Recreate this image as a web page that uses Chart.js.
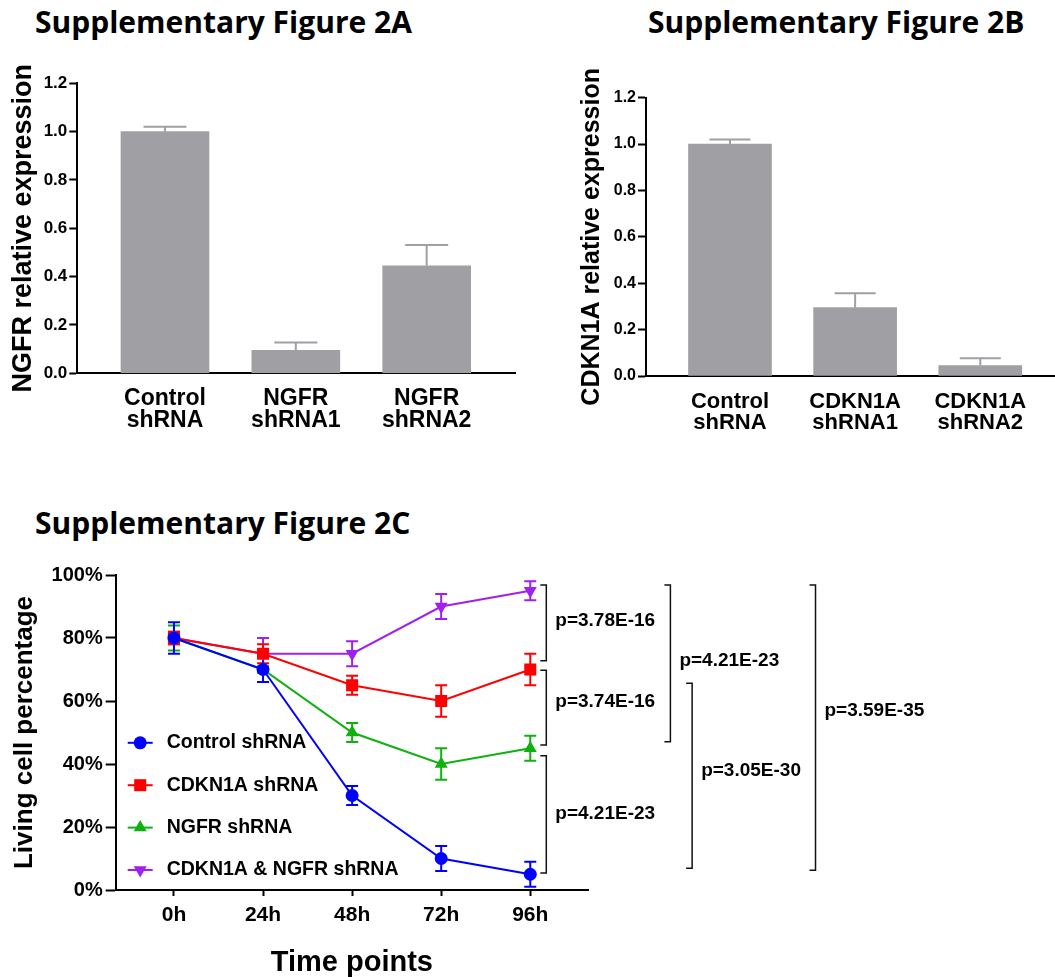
<!DOCTYPE html>
<html>
<head>
<meta charset="utf-8">
<script src="https://cdn.jsdelivr.net/npm/chart.js@4.4.1/dist/chart.umd.min.js"></script>
<style>
  body { margin: 0; background: #fff; width: 1055px; height: 977px; position: relative; overflow: hidden; }
  .ttl { position: absolute; font-family: "Open Sans", sans-serif; font-weight: 700; font-size: 30px; line-height: 30px; white-space: nowrap; color: #000; }
  .box { position: absolute; }
</style>
</head>
<body>
<div class="ttl" style="left:35px;top:7px">Supplementary Figure 2A</div>
<div class="ttl" style="left:648px;top:7px">Supplementary Figure 2B</div>
<div class="ttl" style="left:35px;top:508px">Supplementary Figure 2C</div>
<div class="box" style="left:0;top:50px;width:520px;height:400px"><canvas id="figA"></canvas></div>
<div class="box" style="left:520px;top:50px;width:535px;height:400px"><canvas id="figB"></canvas></div>
<div class="box" style="left:0;top:550px;width:1055px;height:427px"><canvas id="figC"></canvas></div>
<script>
// --- data ---
const ngfrGroups = [['Control', 'shRNA'], ['NGFR', 'shRNA1'], ['NGFR', 'shRNA2']];
const ngfrMean = [1.0, 0.095, 0.445];
const ngfrErr = [0.02, 0.032, 0.086];

const cdknGroups = [['Control', 'shRNA'], ['CDKN1A', 'shRNA1'], ['CDKN1A', 'shRNA2']];
const cdknMean = [1.0, 0.295, 0.045];
const cdknErr = [0.02, 0.062, 0.032];

const timeLabels = ['0h', '24h', '48h', '72h', '96h'];
const seriesNames = ['Control shRNA', 'CDKN1A shRNA', 'NGFR shRNA', 'CDKN1A & NGFR shRNA'];
const controlMean = [80, 70, 30, 10, 5];
const controlErr = [5, 4, 3, 4, 4];
const cdknLive = [80, 75, 65, 60, 70];
const cdknLiveErr = [2, 3, 3, 5, 5];
const ngfrLive = [80, 70, 50, 40, 45];
const ngfrLiveErr = [4, 1, 3, 5, 4];
const bothLive = [80, 75, 75, 90, 95];
const bothLiveErr = [2, 5, 4, 4, 3];

// significance brackets (axis units: x in time-index, y in %)
const pValues = ['p=3.78E-16', 'p=3.74E-16', 'p=4.21E-23', 'p=4.21E-23', 'p=3.05E-30', 'p=3.59E-35'];
const bracketX = [4.18, 4.18, 4.18, 5.573, 5.817, 7.202];
const bracketTop = [96.8, 69.8, 42.6, 96.8, 65.6, 96.8];
const bracketBottom = [72.8, 46, 5.4, 47.1, 6.9, 6.3];
const pLabelY = [85.4, 59.7, 24.1, 72.7, 37.8, 56.8];

const FONT = "'Liberation Sans', Arial, sans-serif";
Chart.defaults.font.family = FONT;
Chart.defaults.color = '#000';

const errorBars = {
  id: 'errorBars',
  beforeDatasetsDraw(chart, args, opts) {
    const ctx = chart.ctx;
    const ys = chart.scales.y;
    for (let d = chart.data.datasets.length - 1; d >= 0; d--) {
      const ds = chart.data.datasets[d];
      if (!ds.errors) continue;
      const meta = chart.getDatasetMeta(d);
      ctx.save();
      ctx.strokeStyle = opts.color || ds.borderColor;
      ctx.lineWidth = opts.width;
      meta.data.forEach((el, i) => {
        const v = ds.data[i].y;
        const top = ys.getPixelForValue(v + ds.errors[i]);
        const bot = opts.upOnly ? el.y : ys.getPixelForValue(v - ds.errors[i]);
        ctx.beginPath();
        ctx.moveTo(el.x, top); ctx.lineTo(el.x, bot);
        ctx.moveTo(el.x - opts.cap, top); ctx.lineTo(el.x + opts.cap, top);
        if (!opts.upOnly) { ctx.moveTo(el.x - opts.cap, bot); ctx.lineTo(el.x + opts.cap, bot); }
        ctx.stroke();
      });
      ctx.restore();
    }
  }
};

function barChart(id, groups, mean, err, yTitle, o) {
  return new Chart(document.getElementById(id), {
    type: 'bar',
    data: {
      datasets: [{
        data: groups.map((g, i) => ({ x: i, y: mean[i] })),
        errors: err,
        backgroundColor: '#a0a0a4',
        borderWidth: 0,
        barThickness: o.barW
      }]
    },
    options: {
      responsive: true, maintainAspectRatio: false, animation: false, events: [],
      layout: { padding: { left: 0, top: o.top, right: o.right, bottom: 0 } },
      plugins: { legend: { display: false }, tooltip: { enabled: false },
        errorBars: { width: 2, cap: o.cap, upOnly: true, color: '#a0a0a4' } },
      scales: {
        x: {
          type: 'linear', min: o.xmin, max: o.xmax, offset: false,
          afterBuildTicks: s => { s.ticks = groups.map((g, i) => ({ value: i })); },
          ticks: { callback: v => groups[v], autoSkip: false, maxRotation: 0,
            font: { size: o.xFont, weight: 'bold', lineHeight: 21.3 / o.xFont }, color: '#000', padding: o.xPad },
          grid: { display: false, drawTicks: false },
          border: { display: true, color: '#000', width: 2 },
          afterFit: s => { s.height = o.xH; }
        },
        y: {
          min: 0, max: 1.2,
          ticks: { stepSize: 0.2, callback: v => v.toFixed(1), font: { size: o.yFont, weight: 'bold' }, color: '#000', padding: 2 },
          grid: { drawOnChartArea: false, drawTicks: true, tickLength: 8, tickWidth: 2, tickColor: '#000' },
          border: { color: '#000', width: 2 },
          title: { display: true, text: yTitle, color: '#000',
            font: { size: o.titleFont, weight: 'bold', lineHeight: 1 }, padding: { top: o.titlePad, bottom: 0 } },
          afterFit: s => { s.width = o.yW; }
        }
      }
    },
    plugins: [errorBars]
  });
}

barChart('figA', ngfrGroups, ngfrMean, ngfrErr, 'NGFR relative expression',
  { barW: 88, cap: 21.5, top: 33.3, right: 5, xmin: -0.67, xmax: 2.675, xH: 76.7, yW: 77.3,
    xFont: 23, xPad: 15, yFont: 17, titleFont: 27, titlePad: 10 });

barChart('figB', cdknGroups, cdknMean, cdknErr, 'CDKN1A relative expression',
  { barW: 83, cap: 20.5, top: 47.7, right: 0, xmin: -0.671, xmax: 2.597, xH: 74, yW: 126,
    xFont: 22, xPad: 15, yFont: 16, titleFont: 25, titlePad: 59.7 });

// legend drawn inside the plot area, lower left
const insideLegend = {
  id: 'insideLegend',
  afterDraw(chart, args, opts) {
    const { ctx, chartArea } = chart;
    const sets = chart.data.datasets;
    ctx.save();
    sets.forEach((ds, i) => {
      const y = chartArea.bottom - opts.bottomGap - (sets.length - 1 - i) * opts.rowGap;
      const x0 = chartArea.left + opts.left;
      ctx.strokeStyle = ds.borderColor;
      ctx.lineWidth = 2;
      ctx.beginPath(); ctx.moveTo(x0, y); ctx.lineTo(x0 + opts.lineLen, y); ctx.stroke();
      ctx.fillStyle = ds.backgroundColor;
      Chart.helpers.drawPoint(ctx, { pointStyle: ds.pointStyle, radius: ds.pointRadius, rotation: ds.pointRotation || 0, borderWidth: 0 },
        x0 + opts.lineLen / 2, y);
      ctx.fillStyle = '#000';
      ctx.font = 'bold ' + opts.fontSize + 'px ' + FONT;
      ctx.textAlign = 'left'; ctx.textBaseline = 'middle';
      ctx.fillText(ds.label, x0 + opts.textGap, y);
    });
    ctx.restore();
  }
};

const brackets = {
  id: 'brackets',
  afterDraw(chart, args, opts) {
    const { ctx } = chart;
    const xs = chart.scales.x, ys = chart.scales.y;
    ctx.save();
    ctx.strokeStyle = '#111';
    ctx.lineWidth = 1.5;
    ctx.fillStyle = '#000';
    ctx.font = 'bold ' + opts.fontSize + 'px ' + FONT;
    ctx.textAlign = 'left'; ctx.textBaseline = 'middle';
    pValues.forEach((p, i) => {
      const x = xs.getPixelForValue(bracketX[i]);
      const t = ys.getPixelForValue(bracketTop[i]);
      const b = ys.getPixelForValue(bracketBottom[i]);
      ctx.beginPath();
      ctx.moveTo(x - opts.tick, t); ctx.lineTo(x, t); ctx.lineTo(x, b); ctx.lineTo(x - opts.tick, b);
      ctx.stroke();
      ctx.fillText(p, x + opts.gap, ys.getPixelForValue(pLabelY[i]));
    });
    ctx.restore();
  }
};

const lineStyles = [
  { color: '#0000ff', style: 'circle', r: 6.5, rot: 0 },
  { color: '#ff0000', style: 'rect', r: 8.5, rot: 0 },
  { color: '#10b010', style: 'triangle', r: 7.5, rot: 0 },
  { color: '#a020f0', style: 'triangle', r: 7.5, rot: 180 }
];
const liveMeans = [controlMean, cdknLive, ngfrLive, bothLive];
const liveErrs = [controlErr, cdknLiveErr, ngfrLiveErr, bothLiveErr];

new Chart(document.getElementById('figC'), {
  type: 'line',
  data: {
    datasets: seriesNames.map((name, k) => ({
      label: name,
      data: timeLabels.map((t, i) => ({ x: i, y: liveMeans[k][i] })),
      errors: liveErrs[k],
      borderColor: lineStyles[k].color,
      backgroundColor: lineStyles[k].color,
      borderWidth: 2,
      pointStyle: lineStyles[k].style,
      pointRadius: lineStyles[k].r,
      pointRotation: lineStyles[k].rot,
      pointBorderWidth: 0,
      tension: 0,
      clip: false
    }))
  },
  options: {
    responsive: true, maintainAspectRatio: false, animation: false, events: [],
    layout: { padding: { left: 0, top: 25, right: 467, bottom: 0 } },
    plugins: {
      legend: { display: false }, tooltip: { enabled: false },
      errorBars: { width: 2, cap: 6, upOnly: false },
      insideLegend: { left: 12, lineLen: 25, textGap: 39, bottomGap: 20, rowGap: 42.4, fontSize: 19.5 },
      brackets: { tick: 6, gap: 9, fontSize: 19 }
    },
    scales: {
      x: {
        type: 'linear', min: -0.654, max: 4.648,
        afterBuildTicks: s => { s.ticks = timeLabels.map((t, i) => ({ value: i })); },
        ticks: { callback: v => timeLabels[v], autoSkip: false, maxRotation: 0,
          font: { size: 21, weight: 'bold', lineHeight: 1 }, color: '#000', padding: 9 },
        grid: { drawOnChartArea: false, drawTicks: true, tickLength: 6, tickWidth: 2, tickColor: '#000' },
        border: { color: '#000', width: 2 },
        title: { display: true, text: 'Time points', color: '#000',
          font: { size: 29, weight: 'bold', lineHeight: 1 }, padding: { top: 0, bottom: 0 } },
        afterFit: s => { s.height = 87; }
      },
      y: {
        min: 0, max: 100,
        ticks: { stepSize: 20, callback: v => v + '%', font: { size: 20, weight: 'bold' }, color: '#000', padding: 3 },
        grid: { drawOnChartArea: false, drawTicks: true, tickLength: 10, tickWidth: 2, tickColor: '#000' },
        border: { color: '#000', width: 2 },
        title: { display: true, text: 'Living cell percentage', color: '#000',
          font: { size: 26, weight: 'bold', lineHeight: 1 }, padding: { top: 12, bottom: 0 } },
        afterFit: s => { s.width = 115.7; }
      }
    }
  },
  plugins: [errorBars, insideLegend, brackets]
});
</script>
</body>
</html>
